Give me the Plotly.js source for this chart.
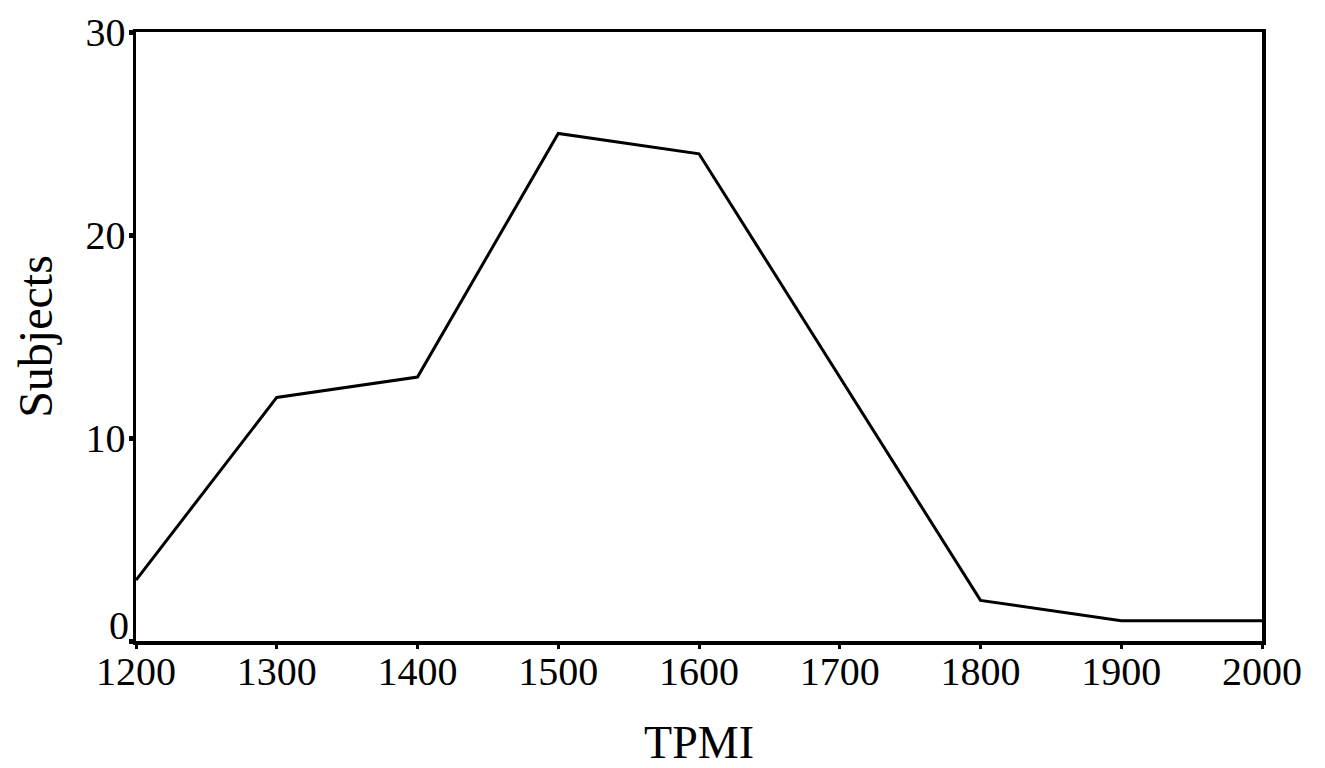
<!DOCTYPE html>
<html>
<head>
<meta charset="utf-8">
<script src="https://cdn.plot.ly/plotly-3.0.1.min.js"></script>
<style>html,body{margin:0;padding:0;background:#fff;}#chart{width:1325px;height:768px;}</style>
</head>
<body>
<div id="chart"></div>
<script>
const tpmi = [1200, 1300, 1400, 1500, 1600, 1700, 1800, 1900, 2000];
const subjects = [3, 12, 13, 25, 24, 13, 2, 1, 1];
const xTicks = [1200, 1300, 1400, 1500, 1600, 1700, 1800, 1900, 2000];
const yTicks = [0, 10, 20, 30];
const yTickText = ['', '10', '20', '30'];
const yZeroLabel = '0';

const font = {family: 'Liberation Serif, Times New Roman, serif', color: '#000'};

Plotly.newPlot('chart', [{
  x: tpmi, y: subjects, type: 'scatter', mode: 'lines',
  line: {color: '#000', width: 3}, hoverinfo: 'skip'
}], {
  width: 1325, height: 768,
  margin: {l: 136, r: 63, t: 32, b: 127},
  paper_bgcolor: '#fff', plot_bgcolor: '#fff',
  showlegend: false,
  font: font,
  xaxis: {
    range: [1200, 2000], tickvals: xTicks, ticktext: xTicks.map(String),
    showgrid: false, zeroline: false, showline: true, mirror: true,
    linecolor: '#000', linewidth: 3.5, ticks: 'outside', ticklen: 4, tickwidth: 3, tickcolor: '#000',
    ticklabelstandoff: -12,
    tickfont: {family: font.family, size: 40, color: '#000'},
    title: {text: 'TPMI', font: {family: font.family, size: 46, color: '#000'}, standoff: 38}
  },
  yaxis: {
    range: [0, 30], tickvals: yTicks, ticktext: yTickText,
    showgrid: false, zeroline: false, showline: true, mirror: true,
    linecolor: '#000', linewidth: 3.5, ticks: 'outside', ticklen: 4, tickwidth: 5, tickcolor: '#000',
    ticklabelstandoff: -5,
    tickfont: {family: font.family, size: 40, color: '#000'},
    title: {text: 'Subjects', font: {family: font.family, size: 48, color: '#000'}, standoff: 18}
  },
  annotations: [{
    text: yZeroLabel, xref: 'paper', x: 0, yref: 'y', y: yTicks[0],
    xanchor: 'right', yanchor: 'middle', xshift: -5, yshift: 16, showarrow: false,
    font: {family: font.family, size: 40, color: '#000'}
  }]
}, {staticPlot: true});
</script>
</body>
</html>
